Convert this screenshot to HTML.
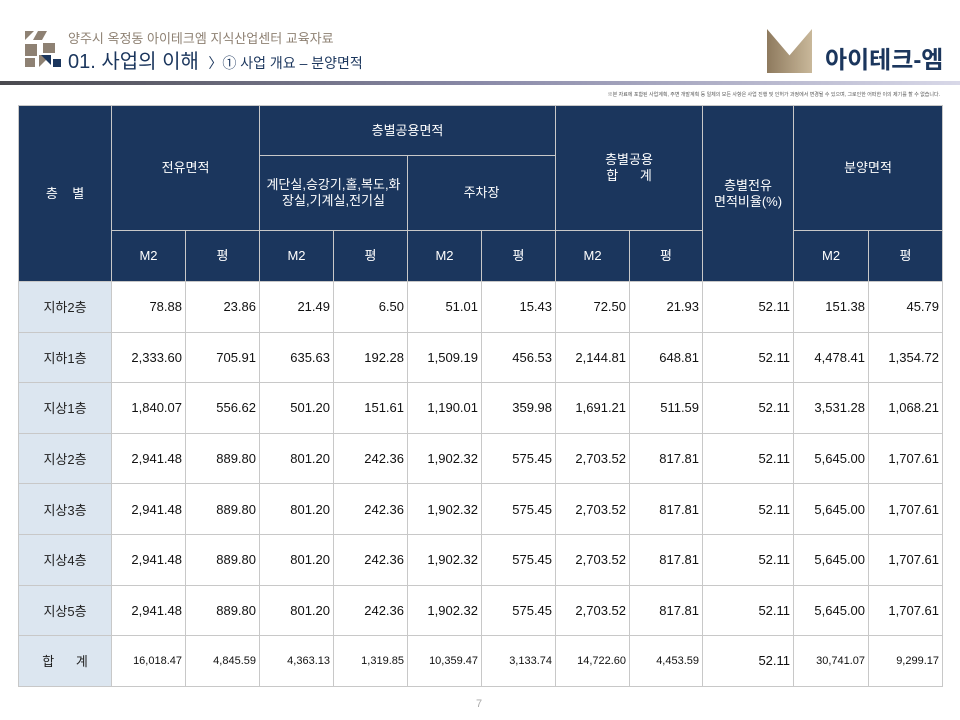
<!DOCTYPE html>
<html><head><meta charset="utf-8">
<style>
body{margin:0;width:960px;height:720px;background:#fff;position:relative;overflow:hidden;font-family:"Liberation Sans","Noto Sans CJK KR",sans-serif;}
.abs{position:absolute;}
table{position:absolute;left:18px;top:105px;border-collapse:collapse;table-layout:fixed;width:924px;}
td,th{border:1px solid #c8c8c8;padding:0;font-weight:normal;}
th{background:#1b365d;color:#fff;font-size:13px;text-align:center;line-height:16px;}
td{font-size:13px;color:#111;text-align:right;padding-right:3px;height:49.6px;}
td.f{background:#dce6f0;text-align:center;padding:0;color:#222;}
tr.tot td{font-size:11px;}
</style></head><body>
<div class="abs" style="left:25px;top:31px;width:36px;height:36px;">
<svg width="36" height="36"><polygon points="0,0 9,0 0,9" fill="#8e8173"/><polygon points="13,0 22,0 17,9 8,9" fill="#8e8173"/><polygon points="18,12 30,12 30,22 18,22" fill="#8e8173"/><polygon points="0,13 12,13 12,25 0,25" fill="#8e8173"/><polygon points="14,24 26,24 14,36" fill="#8e8173"/><polygon points="16,24 26,24 26,34" fill="#1b365d"/><polygon points="28,28 36,28 36,36 28,36" fill="#1b365d"/><polygon points="0,27 10,27 10,36 0,36" fill="#8e8173"/></svg></div>
<div class="abs" style="left:68px;top:28px;font-size:13px;color:#8e8173;">양주시 옥정동 아이테크엠 지식산업센터 교육자료</div>
<div class="abs" style="left:68px;top:45px;font-size:20px;color:#1b365d;">01. 사업의 이해 <span style="font-size:14px;">&nbsp;〉① 사업 개요 – 분양면적</span></div>
<div class="abs" style="left:767px;top:29px;width:45px;height:44px;background:linear-gradient(90deg,#8e7a5e,#c9b89a);clip-path:polygon(0 0,50% 60%,100% 0,100% 100%,0 100%);"></div>
<div class="abs" style="left:825px;top:40px;font-size:24px;font-weight:bold;color:#1b365d;">아이테크-엠</div>
<div class="abs" style="left:0;top:81px;width:960px;height:4px;background:linear-gradient(90deg,#4a4a4f,#8a8aa8 50%,#d8d8e8);"></div>
<div class="abs" style="right:20px;top:91px;font-size:5px;color:#555;">※본 자료에 포함된 사업계획, 주변 개발계획 등 일체의 모든 사항은 사업 진행 및 인허가 과정에서 변경될 수 있으며, 그로인한 어떠한 이의 제기를 할 수 없습니다.</div>
<table>
<colgroup><col style="width:93px"><col style="width:74px"><col style="width:74px"><col style="width:74px"><col style="width:74px"><col style="width:74px"><col style="width:74px"><col style="width:74px"><col style="width:73px"><col style="width:91px"><col style="width:75px"><col style="width:74px"></colgroup>
<tr style="height:50px"><th rowspan="3">층&nbsp;&nbsp;&nbsp;&nbsp;별</th><th rowspan="2" colspan="2">전유면적</th><th colspan="4">층별공용면적</th><th rowspan="2" colspan="2">층별공용<br>합&nbsp;&nbsp;&nbsp;&nbsp;&nbsp;&nbsp;계</th><th rowspan="3">층별전유<br>면적비율(%)</th><th rowspan="2" colspan="2">분양면적</th></tr>
<tr style="height:75px"><th colspan="2">계단실,승강기,홀,복도,화<br>장실,기계실,전기실</th><th colspan="2">주차장</th></tr>
<tr style="height:51px"><th>M2</th><th>평</th><th>M2</th><th>평</th><th>M2</th><th>평</th><th>M2</th><th>평</th><th>M2</th><th>평</th></tr>
<tr><td class="f">지하2층</td><td>78.88</td><td>23.86</td><td>21.49</td><td>6.50</td><td>51.01</td><td>15.43</td><td>72.50</td><td>21.93</td><td>52.11</td><td>151.38</td><td>45.79</td></tr>
<tr><td class="f">지하1층</td><td>2,333.60</td><td>705.91</td><td>635.63</td><td>192.28</td><td>1,509.19</td><td>456.53</td><td>2,144.81</td><td>648.81</td><td>52.11</td><td>4,478.41</td><td>1,354.72</td></tr>
<tr><td class="f">지상1층</td><td>1,840.07</td><td>556.62</td><td>501.20</td><td>151.61</td><td>1,190.01</td><td>359.98</td><td>1,691.21</td><td>511.59</td><td>52.11</td><td>3,531.28</td><td>1,068.21</td></tr>
<tr><td class="f">지상2층</td><td>2,941.48</td><td>889.80</td><td>801.20</td><td>242.36</td><td>1,902.32</td><td>575.45</td><td>2,703.52</td><td>817.81</td><td>52.11</td><td>5,645.00</td><td>1,707.61</td></tr>
<tr><td class="f">지상3층</td><td>2,941.48</td><td>889.80</td><td>801.20</td><td>242.36</td><td>1,902.32</td><td>575.45</td><td>2,703.52</td><td>817.81</td><td>52.11</td><td>5,645.00</td><td>1,707.61</td></tr>
<tr><td class="f">지상4층</td><td>2,941.48</td><td>889.80</td><td>801.20</td><td>242.36</td><td>1,902.32</td><td>575.45</td><td>2,703.52</td><td>817.81</td><td>52.11</td><td>5,645.00</td><td>1,707.61</td></tr>
<tr><td class="f">지상5층</td><td>2,941.48</td><td>889.80</td><td>801.20</td><td>242.36</td><td>1,902.32</td><td>575.45</td><td>2,703.52</td><td>817.81</td><td>52.11</td><td>5,645.00</td><td>1,707.61</td></tr>
<tr class="tot"><td class="f" style="font-size:13px">합&nbsp;&nbsp;&nbsp;&nbsp;&nbsp;&nbsp;계</td><td>16,018.47</td><td>4,845.59</td><td>4,363.13</td><td>1,319.85</td><td>10,359.47</td><td>3,133.74</td><td>14,722.60</td><td>4,453.59</td><td style="font-size:13px">52.11</td><td>30,741.07</td><td>9,299.17</td></tr>
</table>
<div class="abs" style="left:476px;top:698px;font-size:11px;color:#aaa;">7</div>
</body></html>
